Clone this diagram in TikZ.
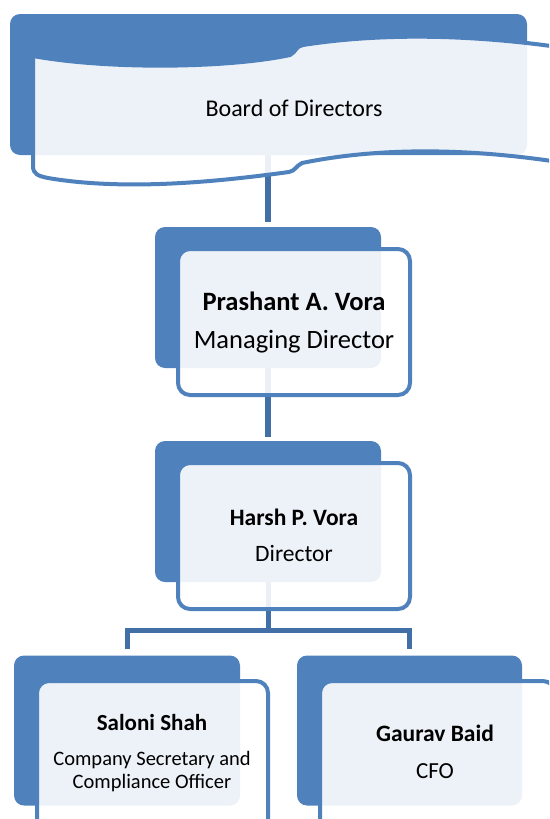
\documentclass[tikz,border=0pt]{standalone}
\usepackage{fontspec}
\setmainfont{Carlito}
\pgfdeclarelayer{bg}
\pgfsetlayers{bg,main}
\definecolor{acc}{HTML}{4F81BD}
\definecolor{conncol}{HTML}{416FA6}
\tikzset{
  backbox/.style={rectangle, rounded corners=10pt, fill=acc, inner sep=0pt},
  frontbox/.style={rectangle, rounded corners=12pt, draw=acc, line width=4pt,
    fill=white, fill opacity=0.9, draw opacity=1, inner sep=0pt},
  wave/.style={draw=acc, line width=4pt, fill=white, fill opacity=0.9, draw opacity=1},
  conn/.style={draw=conncol, line width=6pt},
  treeconn/.style={draw=conncol, line width=5pt},
  lbl/.style={anchor=base, inner sep=0pt, text=black}
}
\begin{document}
\begin{tikzpicture}[x=1pt,y=-1pt]
\clip (0,0) rectangle (549,819);
% ---- Board of Directors
\node[backbox, minimum width=517pt, minimum height=141pt] (bBack) at (268.5,84.5) {};
\path[wave] (33,56) -- (33,166)
  .. controls (33,174) and (38,176) .. (48,178)
  .. controls (130,192) and (230,180) .. (289,172)
  .. controls (295,171) and (296,166) .. (302,163)
  .. controls (380,147) and (470,148) .. (565,163)
  -- (565,48)
  .. controls (470,34) and (380,33) .. (303,45)
  .. controls (296,46) and (296,52) .. (290,55)
  .. controls (230,68) and (110,70) .. (33,56) -- cycle;
\node[lbl, font=\fontsize{24}{28}\selectfont] (board) at (294,116) {Board of Directors};
\coordinate (bdc) at (268,120);
% ---- Prashant
\node[backbox, minimum width=226pt, minimum height=141pt] (pBack) at (268,297.5) {};
\node[frontbox, minimum width=232pt, minimum height=146pt] (pFront) at (294,322) {};
\node[lbl, font=\fontsize{26.5}{30}\selectfont\bfseries] (pName) at (294,310) {Prashant A. Vora};
\node[lbl, font=\fontsize{26.5}{30}\selectfont] (pRole) at (294,348) {Managing Director};
% ---- Harsh
\node[backbox, minimum width=226pt, minimum height=141pt] (hBack) at (268,511.5) {};
\node[frontbox, minimum width=232pt, minimum height=146pt] (hFront) at (294,536) {};
\node[lbl, font=\fontsize{23.5}{28}\selectfont\bfseries] (hName) at (294,525) {Harsh P. Vora};
\node[lbl, font=\fontsize{23.5}{28}\selectfont] (hRole) at (294,561) {Director};
% ---- Saloni
\node[backbox, minimum width=226pt, minimum height=150pt] (sBack) at (127,730.5) {};
\node[frontbox, minimum width=231pt, minimum height=160pt] (sFront) at (152.5,761) {};
\node[lbl, font=\fontsize{23}{28}\selectfont\bfseries] (sName) at (152,730) {Saloni Shah};
\node[lbl, font=\fontsize{20.5}{24}\selectfont] (sRole1) at (152,765) {Company Secretary and};
\node[lbl, font=\fontsize{20.5}{24}\selectfont] (sRole2) at (152,788) {Compliance Officer};
% ---- Gaurav
\node[backbox, minimum width=225pt, minimum height=150pt] (gBack) at (409.5,730.5) {};
\node[frontbox, minimum width=235pt, minimum height=160pt] (gFront) at (437.5,761) {};
\node[lbl, font=\fontsize{23.5}{28}\selectfont\bfseries] (gName) at (435,741) {Gaurav Baid};
\node[lbl, font=\fontsize{23}{28}\selectfont] (gRole) at (435,778) {CFO};
% ---- connectors (behind)
\coordinate (bus) at (268,630);
\begin{pgfonlayer}{bg}
  \draw[conn, shorten >=5pt] (bdc) -- (pBack.north);
  \draw[conn, shorten >=4pt] (pBack.center) -- (hBack.north);
  \draw[treeconn] (hBack.center) -- (bus);
  \draw[treeconn, shorten >=6pt] (bus) -| (sBack.north);
  \draw[treeconn, shorten >=6pt] (bus) -| (gBack.north);
\end{pgfonlayer}
\end{tikzpicture}
\end{document}
